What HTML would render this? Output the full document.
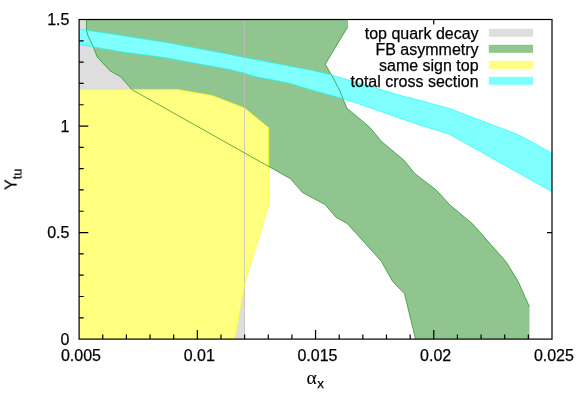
<!DOCTYPE html>
<html>
<head>
<meta charset="utf-8">
<title>Plot</title>
<style>
html,body{margin:0;padding:0;background:#fff;}
body{width:581px;height:407px;overflow:hidden;}
svg{display:block;}
text{font-family:"Liberation Sans",sans-serif;font-size:16px;fill:#000;stroke:#000;stroke-width:0.25px;}
.sub{font-size:12.8px;}
.subx{font-size:13.3px;}
</style>
</head>
<body>
<svg width="581" height="407" viewBox="0 0 581 407">
<rect x="0" y="0" width="581" height="407" fill="#ffffff"/>
<polygon fill="#dedede" points="79.10,19.50 244.50,19.50 244.50,339.10 79.10,339.10"/>
<polygon fill="#90c590" points="348.00,19.50 348.00,26.40 325.30,64.20 332.70,77.10 339.30,89.70 347.00,108.30 354.80,114.70 370.00,127.50 381.25,141.25 403.75,160.00 415.00,173.75 436.25,190.00 450.00,205.00 472.50,223.75 506.30,262.00 518.30,281.70 529.50,307.00 529.50,339.10 415.50,339.10 404.50,293.75 392.50,281.25 381.25,261.25 347.50,223.75 336.25,217.50 325.00,204.50 302.50,192.50 290.50,178.75 132.00,89.70 120.70,76.80 110.00,70.75 97.40,57.30 93.30,47.00 88.10,36.00 86.50,30.50 86.50,19.50"/>
<polygon fill="#ffff80" points="79.10,89.40 177.40,89.40 212.20,95.50 244.70,108.10 268.70,127.80 268.70,204.50 244.50,285.00 234.80,339.10 79.10,339.10"/>
<line x1="244.5" y1="19.5" x2="244.5" y2="339.1" stroke="#bebebe" stroke-width="0.7"/>
<polygon fill="#80ffff" points="79.10,29.30 110.00,33.70 165.00,42.30 225.00,53.60 244.30,57.50 310.00,70.00 332.00,75.00 340.00,77.60 374.70,87.80 400.00,95.30 419.50,100.30 449.30,108.40 519.00,135.00 552.00,153.20 552.00,191.70 449.30,134.20 419.50,124.90 400.00,118.30 370.00,107.70 340.00,97.70 311.00,89.80 290.30,83.40 280.00,81.20 256.20,76.80 244.50,73.20 230.00,69.50 163.00,57.30 122.50,51.90 79.10,44.40"/>
<line x1="244.5" y1="19.5" x2="244.5" y2="339.1" stroke="#bebebe" stroke-width="0.7" stroke-opacity="0.35"/>
<polyline fill="none" stroke="#ffff00" stroke-width="0.6" points="79.10,89.40 177.40,89.40 212.20,95.50 244.70,108.10 268.70,127.80 268.70,204.50 244.50,285.00 234.80,339.10"/>
<polyline fill="none" stroke="#228b22" stroke-width="0.7" stroke-linejoin="round" points="86.50,19.50 86.50,30.50 88.10,36.00 93.30,47.00 97.40,57.30 110.00,70.75 120.70,76.80 132.00,89.70 290.50,178.75 302.50,192.50 325.00,204.50 336.25,217.50 347.50,223.75 381.25,261.25 392.50,281.25 404.50,293.75 415.50,339.10"/>
<polyline fill="none" stroke="#228b22" stroke-width="0.7" stroke-linejoin="round" points="348.00,26.40 325.30,64.20 332.70,77.10 339.30,89.70 347.00,108.30 354.80,114.70 370.00,127.50 381.25,141.25 403.75,160.00 415.00,173.75 436.25,190.00 450.00,205.00 472.50,223.75 506.30,262.00 518.30,281.70 529.50,307.00"/>
<polyline fill="none" stroke="#00ffff" stroke-width="0.6" points="79.10,29.30 110.00,33.70 165.00,42.30 225.00,53.60 244.30,57.50 310.00,70.00 332.00,75.00 340.00,77.60 374.70,87.80 400.00,95.30 419.50,100.30 449.30,108.40 519.00,135.00 552.00,153.20"/>
<polyline fill="none" stroke="#00ffff" stroke-width="0.6" points="79.10,44.40 122.50,51.90 163.00,57.30 230.00,69.50 244.50,73.20 256.20,76.80 280.00,81.20 290.30,83.40 311.00,89.80 340.00,97.70 370.00,107.70 400.00,118.30 419.50,124.90 449.30,134.20 552.00,191.70"/>
<path d="M102.74,339.1v-4.6 M126.39,339.1v-4.6 M150.03,339.1v-4.6 M173.68,339.1v-4.6 M197.32,339.1v-9.2 M220.97,339.1v-4.6 M244.61,339.1v-4.6 M268.26,339.1v-4.6 M291.91,339.1v-4.6 M315.55,339.1v-9.2 M339.19,339.1v-4.6 M362.84,339.1v-4.6 M386.49,339.1v-4.6 M410.13,339.1v-4.6 M433.77,339.1v-9.2 M457.42,339.1v-4.6 M481.07,339.1v-4.6 M504.71,339.1v-4.6 M528.35,339.1v-4.6 M79.1,317.79h4.6 M79.1,296.49h4.6 M79.1,275.18h4.6 M79.1,253.87h4.6 M79.1,232.57h9.2 M79.1,211.26h4.6 M79.1,189.95h4.6 M79.1,168.65h4.6 M79.1,147.34h4.6 M79.1,126.03h9.2 M79.1,104.73h4.6 M79.1,83.42h4.6 M79.1,62.11h4.6 M79.1,40.81h4.6 M433.77,19.5v5 M552.0,232.57h-5" stroke="#000" stroke-width="1.2" fill="none"/>
<rect x="79.1" y="19.5" width="472.90" height="319.60" fill="none" stroke="#000" stroke-width="1.2"/>
<rect x="488.8" y="28.8" width="44.3" height="8" fill="#dedede"/>
<rect x="488.8" y="44.8" width="44.3" height="8" fill="#90c590"/>
<rect x="488.8" y="60.8" width="44.3" height="8" fill="#ffff80"/>
<rect x="488.8" y="76.8" width="44.3" height="8" fill="#80ffff"/>
<g id="txt" style="opacity:0.999">
<text x="478.6" y="38.8" text-anchor="end">top quark decay</text>
<text x="478.6" y="54.8" text-anchor="end">FB asymmetry</text>
<text x="478.6" y="70.8" text-anchor="end">same sign top</text>
<text x="478.6" y="86.8" text-anchor="end">total cross section</text>
<text x="69.4" y="25.30" text-anchor="end">1.5</text>
<text x="69.4" y="131.83" text-anchor="end">1</text>
<text x="69.4" y="238.37" text-anchor="end">0.5</text>
<text x="69.4" y="344.90" text-anchor="end">0</text>
<text x="81.00" y="360.7" text-anchor="middle">0.005</text>
<text x="199.22" y="360.7" text-anchor="middle">0.01</text>
<text x="317.45" y="360.7" text-anchor="middle">0.015</text>
<text x="435.67" y="360.7" text-anchor="middle">0.02</text>
<text x="553.90" y="360.7" text-anchor="middle">0.025</text>
<text x="306.6" y="384" style="font-family:'Liberation Serif',serif;font-size:19.5px;stroke-width:0.1px">α</text>
<text x="317.3" y="388" class="subx">x</text>
<text transform="translate(16.5,190) rotate(-90)" x="0" y="0">Y<tspan class="sub" dy="5.3">tu</tspan></text>
</g>
</svg>
</body>
</html>
